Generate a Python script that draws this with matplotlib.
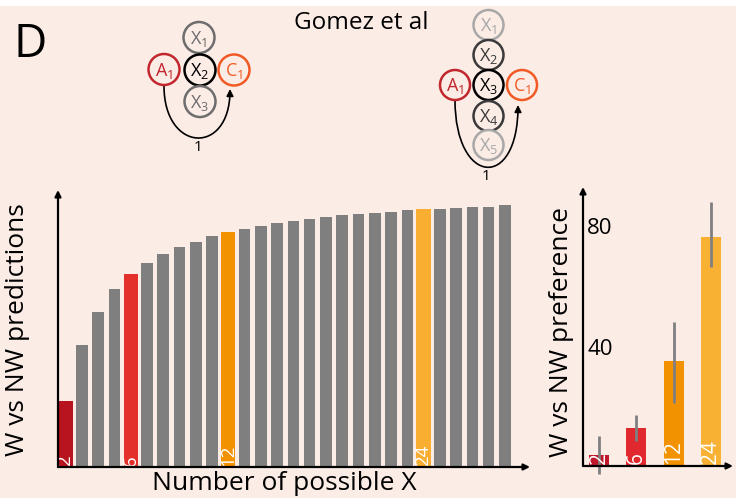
import numpy as np
import matplotlib
matplotlib.use('Agg')
import matplotlib.pyplot as plt
import matplotlib.transforms as mtransforms
from matplotlib.patches import Circle, FancyArrowPatch, Rectangle
from matplotlib.path import Path

plt.rcParams['font.family'] = ['Open Sans', 'DejaVu Sans']

# model predictions for number of possible X = 2..29
n_x = list(range(2, 30))
pred = [66, 122, 155, 178, 193, 204, 213, 220, 225, 231, 235, 238, 241, 244,
        246, 248, 250, 252, 253, 254, 255, 257, 258, 258, 259, 260, 260, 262]
hl_colors = {2: '#b8141f', 6: '#e3302a', 12: '#f39200', 24: '#f9ae32'}

# behavioural preference
pref_lab = ['2', '6', '12', '24']
pref = [3.6, 12.6, 34.5, 75.2]
pref_lo = [6.2, 4.3, 13.9, 9.6]
pref_hi = [6.4, 4.2, 13.0, 11.5]
pref_colors = ['#c0182a', '#e1282e', '#f39200', '#f8b133']

bg = '#fcece6'
grey = '#7f7f7f'
W, H = 736, 498

fig = plt.figure(figsize=(W / 100, H / 100), dpi=100)
fig.patch.set_facecolor(bg)


def px_axes(l, t, r, b):
    return fig.add_axes([l / W, 1 - b / H, (r - l) / W, (b - t) / H])


def arrow_axes(ax):
    ax.axis('off')
    kw = dict(arrowstyle='-|>', lw=1.6, color='k', mutation_scale=9,
              shrinkA=0, shrinkB=0)
    ax.annotate('', xy=(0, 1), xytext=(0, 0), xycoords='axes fraction',
                arrowprops=kw)
    ax.annotate('', xy=(1, 0), xytext=(0, 0), xycoords='axes fraction',
                arrowprops=kw)


# background / diagram layer in pixel coordinates
ax0 = fig.add_axes([0, 0, 1, 1])
ax0.set_xlim(0, W)
ax0.set_ylim(H, 0)
ax0.axis('off')
ax0.add_patch(Rectangle((0, 0), W, 6, color='white', lw=0))

ax0.text(13, 57, 'D', fontsize=33, va='baseline', ha='left')
ax0.text(361, 23, 'Gomez et al', fontsize=17.5, ha='center', va='center')


def node(x, y, lab, col, r=15.5):
    ax0.add_patch(Circle((x, y), r, facecolor=bg, edgecolor=col, lw=1.8))
    ax0.text(x, y + 1, r'$\mathregular{%s_%s}$' % (lab[0], lab[1]), color=col,
             fontsize=13, ha='center', va='center')


def arc(x0, y0, x1, y1, d, lx, ly):
    p = Path([(x0, y0), (x0, y0 + d), (x1, y1 + d), (x1, y1)],
             [Path.MOVETO, Path.CURVE4, Path.CURVE4, Path.CURVE4])
    ax0.add_patch(FancyArrowPatch(path=p, arrowstyle='-|>', mutation_scale=10,
                                  lw=1.2, color='k', shrinkA=0, shrinkB=0))
    ax0.text(lx, ly, '1', fontsize=11, ha='center', va='center')


a_col, c_col = '#c1272d', '#f15a24'
# left diagram
arc(164, 86, 230, 89, 67, 198, 147)
node(199, 37.5, 'X1', '#6d6d6d')
node(200, 70, 'X2', 'black')
node(200, 101.5, 'X3', '#6d6d6d')
node(164, 69.5, 'A1', a_col)
node(234, 70, 'C1', c_col)
# right diagram
arc(455, 100, 518, 105, 86, 486, 176)
for yy, lab, col in zip([25, 55, 85, 116, 145], ['X1', 'X2', 'X3', 'X4', 'X5'],
                        ['#a8a8a8', '#3a3a3a', 'black', '#3a3a3a', '#a8a8a8']):
    node(488.5, yy, lab, col, r=15)
node(455, 85, 'A1', a_col, r=15)
node(522, 85, 'C1', c_col, r=15)

# main prediction chart
ax = px_axes(58, 190, 530, 467)
ax.patch.set_alpha(0)
cols = [hl_colors.get(n, grey) for n in n_x]
wids = [0.88 if n in hl_colors else 0.71 for n in n_x]
ax.bar(n_x, pred, width=wids, color=cols, lw=0)
for n in hl_colors:
    ax.text(n, 1.5, str(n), rotation=90, color='white', fontsize=13.5,
            ha='center', va='bottom')
ax.set_xlim(1.533, 30.54)
ax.set_ylim(0, 277)
arrow_axes(ax)

# preference chart
ax2 = px_axes(583, 187, 733, 466)
ax2.patch.set_alpha(0)
xs = np.arange(len(pref))
ax2.bar(xs, pref, width=0.54, color=pref_colors, lw=0)
for x, lab in zip(xs, pref_lab):
    ax2.text(x, 0.8, lab, rotation=90, color='white', fontsize=15,
             ha='center', va='bottom')
eb = ax2.errorbar(xs, pref, yerr=[pref_lo, pref_hi], fmt='none',
                  ecolor=grey, elinewidth=2, capsize=0)
for c in eb.lines[2]:
    c.set_clip_on(False)
ax2.set_xlim(-0.43, 3.59)
ax2.set_ylim(0, 91.8)
arrow_axes(ax2)
off = mtransforms.ScaledTranslation(3 / 72, -4 / 72, fig.dpi_scale_trans)
for v in [40, 80]:
    ax2.text(0, v, str(v), transform=mtransforms.blended_transform_factory(
        ax2.transAxes, ax2.transData) + off, fontsize=16, ha='left', va='center')

fig.text(18 / W, 1 - 330 / H, 'W vs NW predictions', rotation=90,
         fontsize=19, ha='center', va='center')
fig.text(561 / W, 1 - 332 / H, 'W vs NW preference', rotation=90,
         fontsize=19, ha='center', va='center')
fig.text(284 / W, 1 - 490 / H, 'Number of possible X', fontsize=19,
         ha='center', va='baseline')

fig.savefig('out.png', dpi=100, facecolor=bg)
